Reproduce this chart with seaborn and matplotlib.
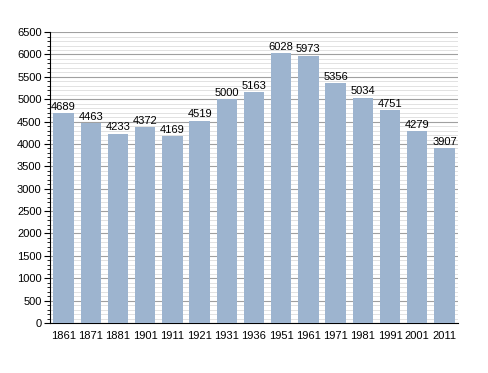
import matplotlib
matplotlib.use('Agg')
import matplotlib.pyplot as plt
import seaborn as sns
import pandas as pd
from matplotlib.ticker import MultipleLocator

# Population by census year
years = ['1861', '1871', '1881', '1901', '1911', '1921', '1931', '1936',
         '1951', '1961', '1971', '1981', '1991', '2001', '2011']
population = [4689, 4463, 4233, 4372, 4169, 4519, 5000, 5163,
              6028, 5973, 5356, 5034, 4751, 4279, 3907]

df = pd.DataFrame({'year': years, 'pop': population})

sns.set_style('white')
plt.rcParams['font.family'] = ['Liberation Sans', 'DejaVu Sans']
plt.rcParams['text.color'] = 'black'
plt.rcParams['xtick.color'] = 'black'
plt.rcParams['ytick.color'] = 'black'

fig = plt.figure(figsize=(4.88, 3.73), dpi=100)
ax = fig.add_axes([0.1025, 0.134, 0.836, 0.780])

sns.barplot(data=df, x='year', y='pop', color='#9db4cf', saturation=1,
            width=0.75, linewidth=0, ax=ax, zorder=3)
ax.bar_label(ax.containers[0], fontsize=8, padding=1, color='black')

ax.set_ylim(0, 6500)
ax.set_xlim(-0.5, len(years) - 0.5)
ax.yaxis.set_major_locator(MultipleLocator(500))
ax.yaxis.set_minor_locator(MultipleLocator(100))
ax.grid(axis='y', which='major', color='#a0a0a0', linewidth=0.8, zorder=0)
ax.grid(axis='y', which='minor', color='#dddddd', linewidth=0.6, zorder=0)
ax.set_axisbelow(True)

for s in ['top', 'right']:
    ax.spines[s].set_visible(False)
ax.spines['left'].set_color('black')
ax.spines['bottom'].set_color('black')
ax.tick_params(axis='y', which='major', left=True, length=4, width=0.8, labelsize=8, pad=2)
ax.tick_params(axis='y', which='minor', left=True, length=2, width=0.6)
ax.tick_params(axis='x', bottom=False, labelsize=8, pad=2)
ax.set_xlabel('')
ax.set_ylabel('')

fig.savefig('out.png', dpi=100)
